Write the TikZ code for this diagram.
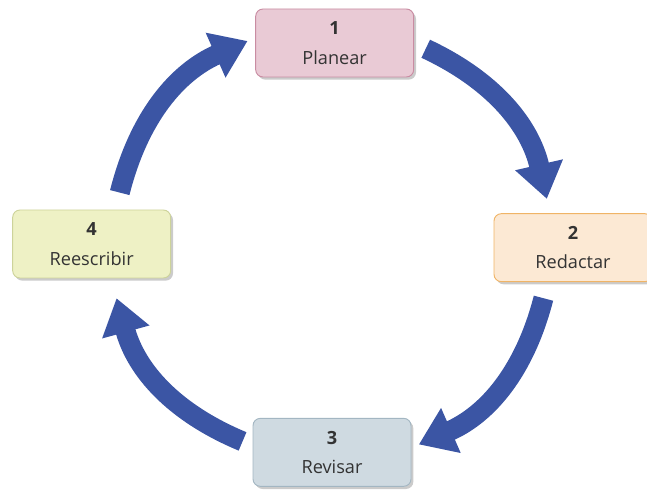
\documentclass[tikz,border=0pt]{standalone}
\usepackage{fontspec}
\setmainfont{Open Sans}
\usepackage{tikz}
\usetikzlibrary{arrows.meta, shadows, positioning, calc}

\definecolor{cycleblue}{HTML}{3B55A4}
\definecolor{planfill}{HTML}{E9CAD5}
\definecolor{plandraw}{HTML}{C98CA2}
\definecolor{redfill}{HTML}{FCE9D4}
\definecolor{reddraw}{HTML}{F0B466}
\definecolor{revfill}{HTML}{CFDAE1}
\definecolor{revdraw}{HTML}{A3B6C2}
\definecolor{reefill}{HTML}{EEF1C5}
\definecolor{reedraw}{HTML}{CDD39A}
\definecolor{textgray}{HTML}{333333}

\begin{document}
\begin{tikzpicture}
  [> = {Triangle[length=1.05cm, width=1.4cm]},
    stage/.style ={
        rectangle,
        thick,
        rounded corners=0.22cm,
        minimum width=4.74cm,
        minimum height=2.04cm,
        align=center,
        text=textgray,
        font=\fontsize{15.5}{25}\selectfont,
        drop shadow={shadow xshift=0.07cm, shadow yshift=-0.08cm, fill=black!45, opacity=0.45},
      },
    cycle/.style ={
        draw=cycleblue,
        line width=0.6cm,
        ->,
      },
  ]
  \useasboundingbox (0,0) rectangle (19.41,14.73);

  \node[stage, fill=planfill, draw=plandraw] (plan) at (10.04,13.44) {\textbf{1}\\Planear};
  \node[stage, fill=redfill, draw=reddraw] (redact) at (17.19,7.30) {\textbf{2}\\Redactar};
  \node[stage, fill=revfill, draw=revdraw] (revise) at (9.96,1.16) {\textbf{3}\\Revisar};
  \node[stage, fill=reefill, draw=reedraw] (rewrite) at (2.75,7.41) {\textbf{4}\\Reescribir};

  % circle the arrows run on
  \coordinate (hub) at (9.9,7.38);
  \coordinate (a1) at ($(hub)+(64:6.55)$);
  \coordinate (b1) at ($(hub)+(12:6.65)$);
  \coordinate (a2) at ($(hub)+(-14:6.6)$);
  \coordinate (b2) at ($(hub)+(-66:6.55)$);
  \coordinate (a3) at ($(hub)+(-114:6.45)$);
  \coordinate (b3) at ($(hub)+(-166:6.6)$);
  \coordinate (a4) at ($(hub)+(166:6.5)$);
  \coordinate (b4) at ($(hub)+(112:6.6)$);

  \draw[cycle] (a1) to[bend left=26] (b1);
  \draw[cycle] (a2) to[bend left=26] (b2);
  \draw[cycle] (a3) to[bend left=26] (b3);
  \draw[cycle] (a4) to[bend left=26] (b4);
\end{tikzpicture}
\end{document}
